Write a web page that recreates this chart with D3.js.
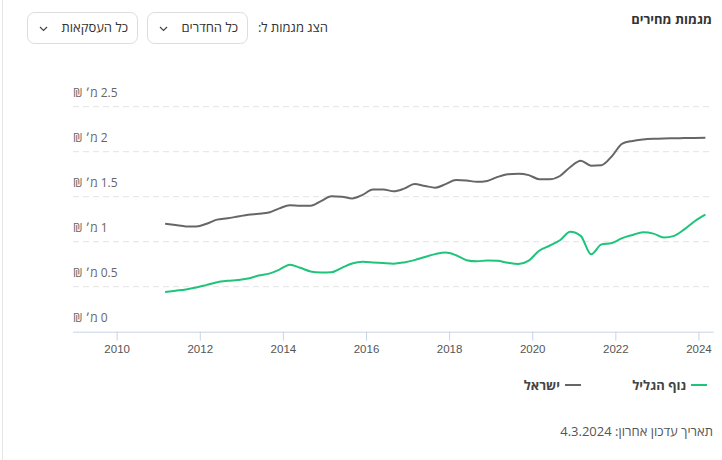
<!DOCTYPE html>
<html>
<head>
<meta charset="utf-8">
<script src="https://cdn.jsdelivr.net/npm/d3@7"></script>
<style>
  body { margin: 0; background: #fff; }
  svg { font-family: "Open Sans", "Liberation Sans", sans-serif; }
  .rtl { direction: rtl; unicode-bidi: embed; }
  .axis-x .domain, .axis-x line { stroke: #c9d3e6; }
  .axis-x text { fill: #555; font-size: 11.5px; }
</style>
</head>
<body>
<div id="chart"></div>
<script>
// quarterly dates (year-month)
var dates = ["2011-03","2011-06","2011-09","2011-12","2012-03","2012-06","2012-09","2012-12",
             "2013-03","2013-06","2013-09","2013-12","2014-03","2014-06","2014-09","2014-12",
             "2015-03","2015-06","2015-09","2015-12","2016-03","2016-06","2016-09","2016-12",
             "2017-03","2017-06","2017-09","2017-12","2018-03","2018-06","2018-09","2018-12",
             "2019-03","2019-06","2019-09","2019-12","2020-03","2020-06","2020-09","2020-12",
             "2021-03","2021-06","2021-09","2021-12","2022-03","2022-06","2022-09","2022-12",
             "2023-03","2023-06","2023-09","2023-12","2024-03"];

// price in millions of shekels
var israel = [1.20,1.185,1.17,1.17,1.20,1.245,1.26,1.28,
              1.30,1.31,1.325,1.37,1.405,1.40,1.40,1.45,
              1.505,1.50,1.48,1.52,1.58,1.58,1.56,1.59,
              1.64,1.62,1.60,1.64,1.685,1.68,1.665,1.675,
              1.72,1.75,1.756,1.74,1.695,1.693,1.73,1.83,
              1.90,1.845,1.85,1.95,2.09,2.12,2.135,2.143,
              2.147,2.149,2.151,2.153,2.155];

var nofHagalil = [0.44,0.455,0.47,0.49,0.52,0.55,0.565,0.575,
                  0.59,0.625,0.645,0.69,0.745,0.71,0.67,0.658,
                  0.66,0.71,0.758,0.776,0.77,0.762,0.756,0.77,
                  0.795,0.83,0.862,0.88,0.85,0.795,0.782,0.792,
                  0.787,0.765,0.752,0.79,0.90,0.955,1.016,1.11,
                  1.065,0.86,0.97,0.986,1.04,1.075,1.105,1.09,
                  1.046,1.065,1.14,1.23,1.30];

var yearTicks = [2010, 2012, 2014, 2016, 2018, 2020, 2022, 2024],
    valueTicks = [0, 0.5, 1, 1.5, 2, 2.5];

var series = [{name: 'נוף הגליל', color: '#1fc47b', values: nofHagalil},
              {name: 'ישראל',     color: '#666666', values: israel}];

var width = 722,
    height = 460,
    xScale = d3.scaleLinear()
               .domain([2008.94, 2024.35])
               .range([72.6, 713]),
    yScale = d3.scaleLinear()
               .domain([0, 2.5])
               .range([331.7, 106.7]),
    xAxis = d3.axisBottom(xScale)
              .tickValues(yearTicks)
              .tickFormat(d3.format("d"))
              .tickSize(9)
              .tickSizeOuter(0)
              .tickPadding(4);

var svg = d3.select("#chart").append("svg")
      .attr("width", width)
      .attr("height", height);

init();

function toYear(s){
    var p = s.split("-");
    return +p[0] + (+p[1] - 1) / 12;
}

function init(){
    // left border of the card
    svg.append("line")
      .attr("x1", 2.5).attr("x2", 2.5)
      .attr("y1", 0).attr("y2", height)
      .attr("stroke", "#e6e6e6");

    // header
    svg.append("text")
      .attr("class", "rtl")
      .attr("x", 712)
      .attr("y", 24)
      .attr("text-anchor", "start")
      .style("font-size", "13px")
      .style("font-weight", "bold")
      .attr("fill", "#333")
      .text("מגמות מחירים");

    svg.append("text")
      .attr("class", "rtl")
      .attr("x", 328)
      .attr("y", 32)
      .attr("text-anchor", "start")
      .style("font-size", "13px")
      .attr("fill", "#333")
      .text("הצג מגמות ל:");

    var boxes = [{label: 'כל החדרים', x: 147, w: 100},
                 {label: 'כל העסקאות', x: 27, w: 110}];

    var box = svg.selectAll(".dd")
      .data(boxes).enter()
      .append("g")
        .attr("class", "dd")
        .attr("transform", function(d){ return "translate(" + d.x + ",12)"; });

    box.append("rect")
      .attr("x", 0.5).attr("y", 0.5)
      .attr("width", function(d){ return d.w; })
      .attr("height", 31)
      .attr("rx", 7)
      .attr("fill", "#fff")
      .attr("stroke", "#dcdcdc");

    box.append("text")
      .attr("class", "rtl")
      .attr("x", function(d){ return d.w - 9; })
      .attr("y", 20)
      .attr("text-anchor", "start")
      .style("font-size", "13px")
      .attr("fill", "#333")
      .text(function(d){ return d.label; });

    box.append("path")
      .attr("d", "M13,15 L16.5,18.5 L20,15")
      .attr("fill", "none")
      .attr("stroke", "#444")
      .attr("stroke-width", 1.2);

    // grid
    svg.append("g")
      .selectAll("line")
        .data(valueTicks.filter(function(d){ return d > 0; })).enter()
        .append("line")
          .attr("x1", 73)
          .attr("x2", 713)
          .attr("y1", function(d){ return yScale(d); })
          .attr("y2", function(d){ return yScale(d); })
          .attr("stroke", "#e3e3e3")
          .attr("stroke-dasharray", "6,4");

    svg.append("g")
      .selectAll("text")
        .data(valueTicks).enter()
        .append("text")
          .attr("class", "rtl")
          .attr("x", 73)
          .attr("y", function(d){ return yScale(d) - 9.5; })
          .attr("text-anchor", "end")
          .style("font-size", "12px")
          .attr("fill", "#666")
          .text(function(d){ return d + " מ׳ ₪"; });

    svg.append("g")
      .attr("class", "axis axis-x")
      .attr("transform", "translate(0," + yScale(0) + ")")
      .call(xAxis)
      .call(function(g){ g.selectAll("text").style("font-family", null); });

    // lines
    var line = d3.line()
      .x(function(d, i){ return xScale(toYear(dates[i])); })
      .y(function(d){ return yScale(d); })
      .curve(d3.curveMonotoneX);

    svg.append("g")
      .selectAll("path")
        .data(series.slice().reverse()).enter()
        .append("path")
          .attr("d", function(d){ return line(d.values); })
          .attr("fill", "none")
          .attr("stroke", function(d){ return d.color; })
          .attr("stroke-width", 2);

    // legend
    var legend = svg.append("g")
      .selectAll("g")
        .data(series).enter()
        .append("g")
          .attr("transform", function(d, i){ return "translate(" + (i === 0 ? 707 : 581) + ",385)"; });

    legend.append("line")
      .attr("x1", -16).attr("x2", 0)
      .attr("stroke", function(d){ return d.color; })
      .attr("stroke-width", 2);

    legend.append("text")
      .attr("class", "rtl")
      .attr("x", -21)
      .attr("y", 4.5)
      .attr("text-anchor", "start")
      .style("font-size", "13px")
      .style("font-weight", "bold")
      .attr("fill", "#444")
      .text(function(d){ return d.name; });

    svg.append("text")
      .attr("class", "rtl")
      .attr("x", 713)
      .attr("y", 436)
      .attr("text-anchor", "start")
      .style("font-size", "13px")
      .attr("fill", "#555")
      .text("תאריך עדכון אחרון: 4.3.2024");
}
</script>
</body>
</html>
